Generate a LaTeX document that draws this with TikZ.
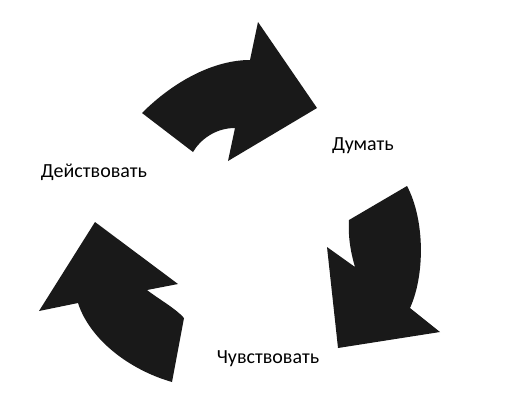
\documentclass[tikz,border=0pt]{standalone}
\usepackage{fontspec}
\setmainfont{Carlito}
\usepackage{tikz}

\begin{document}
\begin{tikzpicture}[
                    x=1pt, y=-1pt,
                    arrowshape/.style={
                        fill=black!90,
                        draw=none
                    },
                    word/.style={
                        font=\fontsize{20}{24}\selectfont,
                        inner sep=0pt
                    }
                ]
                    \useasboundingbox (0,0) rectangle (510,416);

                    % Arrows
                    \fill[arrowshape] (142,113) .. controls (175,80) and (215,60) .. (250,60)
                        -- (258,22) -- (317,108) -- (228,161) -- (235,128)
                        .. controls (215,128) and (200,140) .. (193,152) -- cycle;
                    \fill[arrowshape] (407,186) .. controls (425,220) and (425,275) .. (410,308)
                        -- (440,332) -- (338,348) -- (327,247) -- (355,267)
                        .. controls (350,250) and (348,235) .. (349,220) -- cycle;
                    \fill[arrowshape] (95,222) -- (178,284) -- (147,290)
                        .. controls (160,300) and (175,308) .. (184,318) -- (172,382)
                        .. controls (130,370) and (90,340) .. (78,303) -- (39,311) -- cycle;

                    % Labels
                    \node[word] (think) at (363,146) {Думать};
                    \node[word] (act) at (94,172) {Действовать};
                    \node[word] (feel) at (268,359) {Чувствовать};
                \end{tikzpicture}
\end{document}
